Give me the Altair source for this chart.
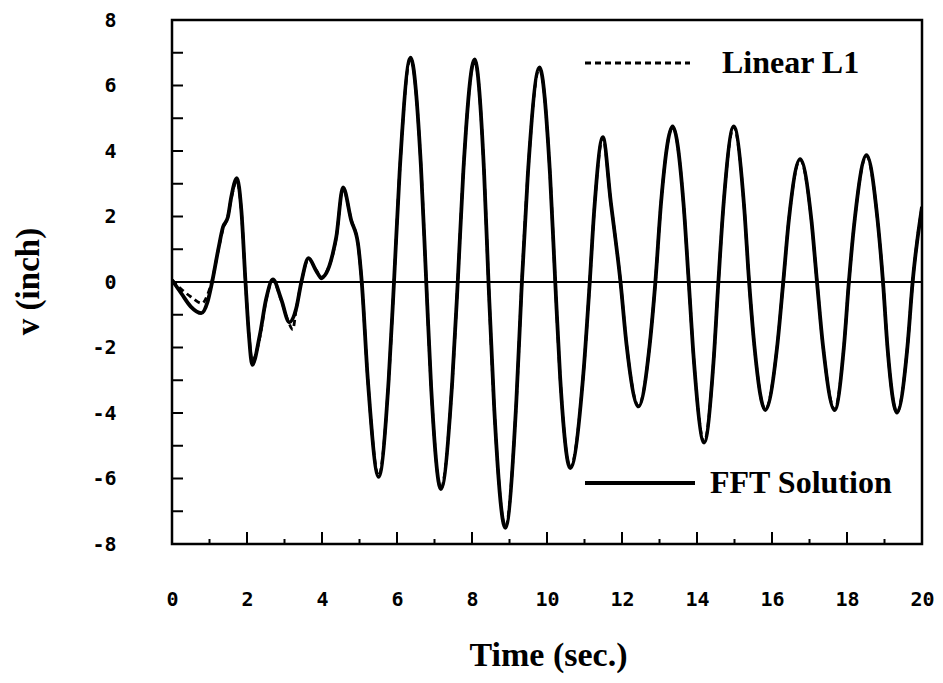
import altair as alt
import pandas as pd

# ---- data ----
t_fft = [0.00, 0.25, 0.50, 0.78, 0.95, 1.07, 1.23, 1.36, 1.49, 1.58, 1.73, 1.85, 1.96,
         2.05, 2.14, 2.34, 2.51, 2.69, 2.91, 3.13, 3.31, 3.45, 3.64, 3.85, 3.98, 4.16,
         4.29, 4.38, 4.56, 4.78, 4.96, 5.06, 5.22, 5.51, 5.78, 5.92, 6.07, 6.36, 6.64,
         6.78, 6.91, 7.17, 7.47, 7.62, 7.77, 8.07, 8.32, 8.44, 8.59, 8.89, 9.18, 9.33,
         9.49, 9.80, 10.08, 10.22, 10.35, 10.62, 10.97, 11.14, 11.26, 11.49, 11.70, 11.96,
         12.12, 12.44, 12.74, 12.89, 13.04, 13.35, 13.64, 13.78, 13.92, 14.19, 14.44, 14.57,
         14.71, 14.98, 15.25, 15.39, 15.53, 15.82, 16.14, 16.30, 16.45, 16.75, 17.05, 17.20,
         17.36, 17.67, 17.92, 18.05, 18.21, 18.52, 18.81, 18.96, 19.08, 19.33, 19.61, 19.75,
         20.00]
v_fft = [0.06, -0.35, -0.75, -0.95, -0.60, 0.00, 0.97, 1.68, 1.98, 2.59, 3.17, 2.18, 0.00,
         -1.60, -2.53, -1.63, -0.52, 0.08, -0.52, -1.23, -0.82, 0.00, 0.73, 0.33, 0.13, 0.38,
         0.88, 1.37, 2.89, 1.88, 1.17, 0.00, -2.95, -5.95, -2.95, 0.00, 3.35, 6.85, 3.50,
         0.00, -3.20, -6.32, -3.10, 0.00, 3.40, 6.80, 3.40, 0.00, -3.80, -7.51, -3.70, 0.00,
         3.30, 6.55, 3.30, 0.00, -2.90, -5.68, -2.80, 0.00, 2.20, 4.42, 2.45, 0.00,
         -1.90, -3.80, -1.90, 0.00, 2.40, 4.75, 2.40, 0.00, -2.45, -4.90, -2.45, 0.00,
         2.40, 4.75, 2.40, 0.00, -1.95, -3.91, -1.95, 0.00, 1.90, 3.75, 1.90, 0.00,
         -1.95, -3.91, -1.95, 0.00, 1.95, 3.87, 1.95, 0.00, -2.00, -3.99, -2.00, 0.00,
         2.30]

t_l1 = [0.00, 0.25, 0.50, 0.80, 0.95, 1.07, 1.23, 1.36, 1.49, 1.58, 1.73, 1.85, 1.96,
        2.05, 2.14, 2.34, 2.51, 2.69, 2.91, 3.10, 3.22, 3.31, 3.45, 3.64, 3.85, 3.98, 4.16,
        4.29, 4.38, 4.56, 4.78, 4.96, 5.06, 5.22, 5.51, 5.78, 5.92, 6.07, 6.36, 6.64,
        6.78, 6.91, 7.17, 7.47, 7.62, 7.77, 8.07, 8.32, 8.44, 8.59, 8.89, 9.18, 9.33,
        9.49, 9.80, 10.08, 10.22, 10.35, 10.62, 10.97, 11.14, 11.26, 11.49, 11.70, 11.96,
        12.12, 12.44, 12.74, 12.89, 13.04, 13.35, 13.64, 13.78, 13.92, 14.19, 14.44, 14.57,
        14.71, 14.98, 15.25, 15.39, 15.53, 15.82, 16.14, 16.30, 16.45, 16.75, 17.05, 17.20,
        17.36, 17.67, 17.92, 18.05, 18.21, 18.52, 18.81, 18.96, 19.08, 19.33, 19.61, 19.75,
        20.00]
v_l1 = [0.06, -0.22, -0.45, -0.65, -0.38, 0.05, 0.95, 1.62, 2.00, 2.55, 3.10, 2.15, 0.00,
        -1.55, -2.40, -1.70, -0.55, 0.05, -0.55, -1.20, -1.45, -0.85, 0.00, 0.70, 0.35, 0.10, 0.40,
        0.85, 1.35, 2.85, 1.90, 1.15, 0.00, -2.95, -5.92, -2.95, 0.00, 3.35, 6.83, 3.50,
        0.00, -3.20, -6.30, -3.10, 0.00, 3.40, 6.78, 3.40, 0.00, -3.80, -7.48, -3.70, 0.00,
        3.30, 6.53, 3.30, 0.00, -2.90, -5.66, -2.80, 0.00, 2.20, 4.40, 2.45, 0.00,
        -1.90, -3.78, -1.90, 0.00, 2.40, 4.73, 2.40, 0.00, -2.45, -4.88, -2.45, 0.00,
        2.40, 4.73, 2.40, 0.00, -1.95, -3.89, -1.95, 0.00, 1.90, 3.73, 1.90, 0.00,
        -1.95, -3.89, -1.95, 0.00, 1.95, 3.85, 1.95, 0.00, -2.00, -3.97, -2.00, 0.00,
        2.30]

x_labels = [0, 2, 4, 6, 8, 10, 12, 14, 16, 18, 20]
y_labels = [-8, -6, -4, -2, 0, 2, 4, 6, 8]
x_major_ticks = [2, 4, 6, 8, 10, 12, 14, 16, 18]
x_minor_ticks = [1, 3, 5, 7, 9, 11, 13, 15, 17, 19]
y_ticks = [-7, -6, -5, -4, -3, -2, -1, 0, 1, 2, 3, 4, 5, 6, 7]

legend_labels = ["Linear L1", "FFT Solution"]

# ---- chart ----
W, H = 750, 524
xs = alt.Scale(domain=[0, 20], nice=False, zero=False)
ys = alt.Scale(domain=[-8, 8], nice=False, zero=False)

serif = "Liberation Serif"
mono = "DejaVu Sans Mono"
neg = "datum.value < 0 ? '-' + abs(datum.value) : '' + datum.value"

xaxis = alt.Axis(values=x_labels, title="Time (sec.)", grid=False, domain=False, ticks=False,
                 labelFont=mono, labelFontSize=20, labelFontWeight="bold", labelColor="black",
                 labelPadding=45, labelFlush=False, labelOverlap=False,
                 titleFont=serif, titleFontSize=34, titleFontWeight="bold", titleColor="black",
                 titleX=376, titleY=111, titleBaseline="middle", titleAlign="center")
yaxis = alt.Axis(values=y_labels, title="v (inch)", grid=False, domain=False, ticks=False,
                 labelFont=mono, labelFontSize=20, labelFontWeight="bold", labelColor="black",
                 labelPadding=56, labelFlush=False, labelOverlap=False, labelExpr=neg,
                 titleFont=serif, titleFontSize=33, titleFontWeight="bold", titleColor="black",
                 titleX=-144, titleY=261, titleAngle=270, titleBaseline="middle", titleAlign="center")


def X():
    return alt.X("t:Q", scale=xs, axis=xaxis)


def Y():
    return alt.Y("v:Q", scale=ys, axis=yaxis)


fft = pd.DataFrame({"t": t_fft, "v": v_fft})
l1 = pd.DataFrame({"t": t_l1, "v": v_l1})
zero = pd.DataFrame({"t": [0, 20], "v": [0, 0]})

l1_line = alt.Chart(l1).mark_line(color="black", strokeWidth=2.8, strokeDash=[6, 4],
                                  interpolate="monotone", clip=True).encode(x=X(), y=Y())
fft_line = alt.Chart(fft).mark_line(color="black", strokeWidth=3.8,
                                    interpolate="monotone", clip=True).encode(x=X(), y=Y())
zero_line = alt.Chart(zero).mark_line(color="black", strokeWidth=2).encode(x=X(), y=Y())

xmaj = alt.Chart(pd.DataFrame({"t": x_major_ticks})).mark_rule(color="black", strokeWidth=2).encode(
    x=X(), y=alt.value(H), y2=alt.value(H - 12))
xmin = alt.Chart(pd.DataFrame({"t": x_minor_ticks})).mark_rule(color="black", strokeWidth=2).encode(
    x=X(), y=alt.value(H), y2=alt.value(H - 5))
ytk = alt.Chart(pd.DataFrame({"v": y_ticks})).mark_rule(color="black", strokeWidth=2).encode(
    y=Y(), x=alt.value(0), x2=alt.value(11))

leg_dash = alt.Chart(pd.DataFrame({"k": [legend_labels[0]]})).mark_rule(
    color="black", strokeWidth=2.8, strokeDash=[6, 4]).encode(
    x=alt.value(413), x2=alt.value(518), y=alt.value(43))
leg_solid = alt.Chart(pd.DataFrame({"k": [legend_labels[1]]})).mark_rule(
    color="black", strokeWidth=3.8).encode(
    x=alt.value(413), x2=alt.value(523), y=alt.value(463))
leg_t1 = alt.Chart(pd.DataFrame({"k": [legend_labels[0]]})).mark_text(
    font=serif, fontSize=32, fontWeight="bold", align="left", baseline="middle", color="black").encode(
    text="k:N", x=alt.value(550), y=alt.value(43))
leg_t2 = alt.Chart(pd.DataFrame({"k": [legend_labels[1]]})).mark_text(
    font=serif, fontSize=32, fontWeight="bold", align="left", baseline="middle", color="black").encode(
    text="k:N", x=alt.value(538), y=alt.value(463))

chart = alt.layer(zero_line, xmaj, xmin, ytk, l1_line, fft_line,
                  leg_dash, leg_solid, leg_t1, leg_t2).properties(
    width=W, height=H,
    autosize=alt.AutoSizeParams(type="none"),
    padding={"left": 164, "top": 12, "right": 13, "bottom": 130},
    background="white",
).configure_view(stroke="black", strokeWidth=2.5)

chart.save("out.html", embed_options={"renderer": "svg", "actions": False})
